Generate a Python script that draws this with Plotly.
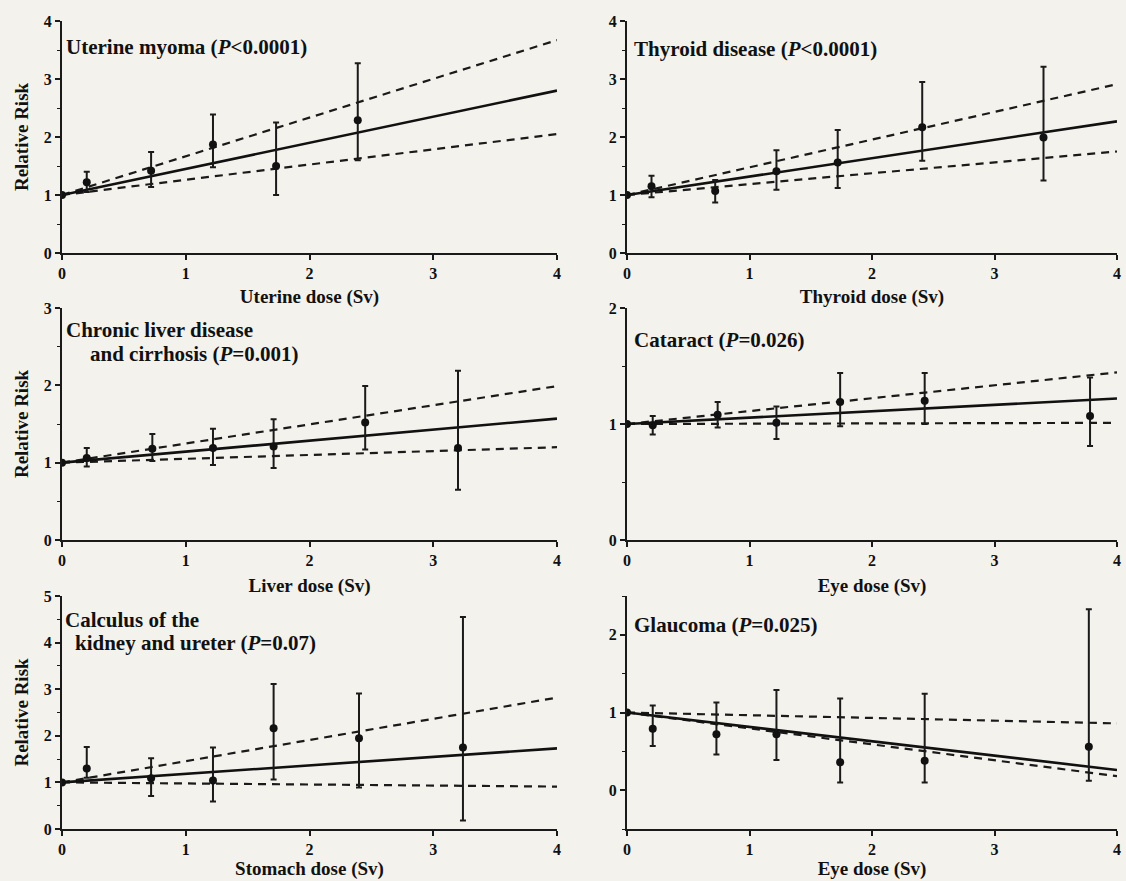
import plotly.graph_objects as go
from plotly.subplots import make_subplots

# ---------------- data ----------------
panels = ["uterine", "thyroid", "liver", "cataract", "kidney", "glaucoma"]

x_titles = ["Uterine dose (Sv)", "Thyroid dose (Sv)", "Liver dose (Sv)",
            "Eye dose (Sv)", "Stomach dose (Sv)", "Eye dose (Sv)"]

# dose, relative risk, upper CI, lower CI
uterine_dose = [0.0, 0.20, 0.72, 1.22, 1.73, 2.39]
uterine_rr = [1.0, 1.22, 1.42, 1.87, 1.50, 2.29]
uterine_hi = [1.0, 1.40, 1.74, 2.39, 2.25, 3.27]
uterine_lo = [1.0, 1.05, 1.14, 1.48, 1.00, 1.60]

thyroid_dose = [0.0, 0.20, 0.72, 1.22, 1.72, 2.41, 3.40]
thyroid_rr = [1.0, 1.15, 1.07, 1.41, 1.56, 2.17, 1.99]
thyroid_hi = [1.0, 1.33, 1.26, 1.77, 2.12, 2.95, 3.21]
thyroid_lo = [1.0, 0.96, 0.87, 1.09, 1.12, 1.59, 1.25]

liver_dose = [0.0, 0.20, 0.73, 1.22, 1.71, 2.45, 3.20]
liver_rr = [1.0, 1.06, 1.18, 1.19, 1.21, 1.52, 1.19]
liver_hi = [1.0, 1.19, 1.37, 1.44, 1.56, 1.99, 2.19]
liver_lo = [1.0, 0.95, 1.02, 0.97, 0.93, 1.17, 0.65]

cataract_dose = [0.0, 0.21, 0.74, 1.22, 1.74, 2.43, 3.78]
cataract_rr = [1.0, 0.99, 1.08, 1.01, 1.19, 1.20, 1.07]
cataract_hi = [1.0, 1.07, 1.19, 1.15, 1.44, 1.44, 1.40]
cataract_lo = [1.0, 0.91, 0.97, 0.87, 0.98, 1.00, 0.81]

kidney_dose = [0.0, 0.20, 0.72, 1.22, 1.71, 2.40, 3.24]
kidney_rr = [1.0, 1.30, 1.09, 1.04, 2.16, 1.95, 1.75]
kidney_hi = [1.0, 1.76, 1.52, 1.75, 3.11, 2.91, 4.55]
kidney_lo = [1.0, 1.10, 0.71, 0.59, 1.06, 0.89, 0.18]

glaucoma_dose = [0.0, 0.21, 0.73, 1.22, 1.74, 2.43, 3.77]
glaucoma_rr = [1.0, 0.79, 0.72, 0.72, 0.36, 0.38, 0.56]
glaucoma_hi = [1.0, 1.09, 1.13, 1.29, 1.18, 1.24, 2.33]
glaucoma_lo = [1.0, 0.57, 0.46, 0.39, 0.10, 0.10, 0.12]

# fitted linear trend (value at 0 Sv and at 4 Sv) and its CI band
line_x = [0, 4]
fit_line = {"uterine": [1.0, 2.80], "thyroid": [1.0, 2.27], "liver": [1.0, 1.57],
            "cataract": [1.0, 1.22], "kidney": [1.0, 1.73], "glaucoma": [1.0, 0.26]}
fit_upper = {"uterine": [1.0, 3.67], "thyroid": [1.0, 2.91], "liver": [1.0, 1.99],
             "cataract": [1.0, 1.445], "kidney": [1.0, 2.82], "glaucoma": [1.0, 0.86]}
fit_lower = {"uterine": [1.0, 2.05], "thyroid": [1.0, 1.75], "liver": [1.0, 1.20],
             "cataract": [1.0, 1.01], "kidney": [1.0, 0.91], "glaucoma": [1.0, 0.18]}

data = {
    "uterine": (uterine_dose, uterine_rr, uterine_hi, uterine_lo),
    "thyroid": (thyroid_dose, thyroid_rr, thyroid_hi, thyroid_lo),
    "liver": (liver_dose, liver_rr, liver_hi, liver_lo),
    "cataract": (cataract_dose, cataract_rr, cataract_hi, cataract_lo),
    "kidney": (kidney_dose, kidney_rr, kidney_hi, kidney_lo),
    "glaucoma": (glaucoma_dose, glaucoma_rr, glaucoma_hi, glaucoma_lo),
}

y_ranges = {"uterine": [0, 4], "thyroid": [0, 4], "liver": [0, 3],
            "cataract": [0, 2], "kidney": [0, 5], "glaucoma": [-0.5, 2.5]}
y_ticks = {"uterine": [0, 1, 2, 3, 4], "thyroid": [0, 1, 2, 3, 4], "liver": [0, 1, 2, 3],
           "cataract": [0, 1, 2], "kidney": [0, 1, 2, 3, 4, 5], "glaucoma": [0, 1, 2]}

# panel titles: list of (text line, left x px, centre y px)
titles = {
    "uterine": [("Uterine myoma (<i>P</i>&lt;0.0001)", 64, 47)],
    "thyroid": [("Thyroid disease (<i>P</i>&lt;0.0001)", 632, 49)],
    "liver": [("Chronic liver disease", 64, 330), ("and cirrhosis (<i>P</i>=0.001)", 88, 354)],
    "cataract": [("Cataract (<i>P</i>=0.026)", 632, 340)],
    "kidney": [("Calculus of the", 63, 620), ("kidney and ureter (<i>P</i>=0.07)", 73, 643)],
    "glaucoma": [("Glaucoma (<i>P</i>=0.025)", 632, 625)],
}

# ---------------- layout geometry ----------------
W, H = 1126, 881
col_px = [(62, 557), (627, 1117)]
row_px = [(21, 253), (308, 540), (596, 829)]
row_standoff = [8, 10, 3]

FONT = "Liberation Serif"
BG = "#f4f2ec"
INK = "#111111"

fig = make_subplots(rows=3, cols=2)

for i, p in enumerate(panels):
    r, c = i // 2 + 1, i % 2 + 1
    dose, rr, hi, lo = data[p]
    plus = [h - v for h, v in zip(hi, rr)]
    minus = [v - l for v, l in zip(rr, lo)]
    for band in (fit_upper[p], fit_lower[p]):
        fig.add_trace(go.Scatter(x=line_x, y=band, mode="lines",
                                 line=dict(color="#1a1a1a", width=2.2, dash="8px,6px"),
                                 showlegend=False, hoverinfo="skip"), row=r, col=c)
    fig.add_trace(go.Scatter(x=line_x, y=fit_line[p], mode="lines",
                             line=dict(color=INK, width=2.6),
                             showlegend=False, hoverinfo="skip"), row=r, col=c)
    fig.add_trace(go.Scatter(x=dose, y=rr, mode="markers",
                             marker=dict(color=INK, size=8),
                             error_y=dict(type="data", array=plus, arrayminus=minus,
                                          color="#1a1a1a", thickness=2, width=3),
                             showlegend=False), row=r, col=c)

    x0, x1 = col_px[c - 1]
    yt, yb = row_px[r - 1]
    axis_common = dict(showline=True, linecolor="#1a1a1a", linewidth=2, showgrid=False,
                       zeroline=False, automargin=False, ticks="outside", tickcolor="#1a1a1a",
                       tickwidth=1.6, ticklen=5,
                       tickfont=dict(family=FONT, size=16, color=INK, weight="bold"))
    fig.update_xaxes(range=[0, 4], tickvals=[0, 1, 2, 3, 4], domain=[x0 / W, x1 / W],
                     title=dict(text=x_titles[i], font=dict(family=FONT, size=19, color=INK, weight="bold"),
                                standoff=row_standoff[r - 1]),
                     row=r, col=c, **axis_common)
    fig.update_yaxes(range=y_ranges[p], tickvals=y_ticks[p], domain=[1 - yb / H, 1 - yt / H],
                     minor=dict(dtick=0.5, ticks="outside", ticklen=3, tickcolor="#1a1a1a", tickwidth=1.3),
                     title=dict(text="Relative Risk" if c == 1 else "",
                                font=dict(family=FONT, size=19, color=INK, weight="bold"), standoff=10),
                     row=r, col=c, **axis_common)

    for text, px, py in titles[p]:
        fig.add_annotation(text=text, xref="paper", yref="paper", x=px / W, y=1 - py / H,
                           xanchor="left", yanchor="middle", showarrow=False,
                           font=dict(family=FONT, size=21, color=INK, weight="bold"))

fig.update_layout(width=W, height=H, margin=dict(l=0, r=0, t=0, b=0, autoexpand=False),
                  paper_bgcolor=BG, plot_bgcolor=BG, showlegend=False)

fig.write_html("out.html", config={"displayModeBar": False},
               post_script="document.body.style.margin='0px';document.body.style.overflow='hidden';")
